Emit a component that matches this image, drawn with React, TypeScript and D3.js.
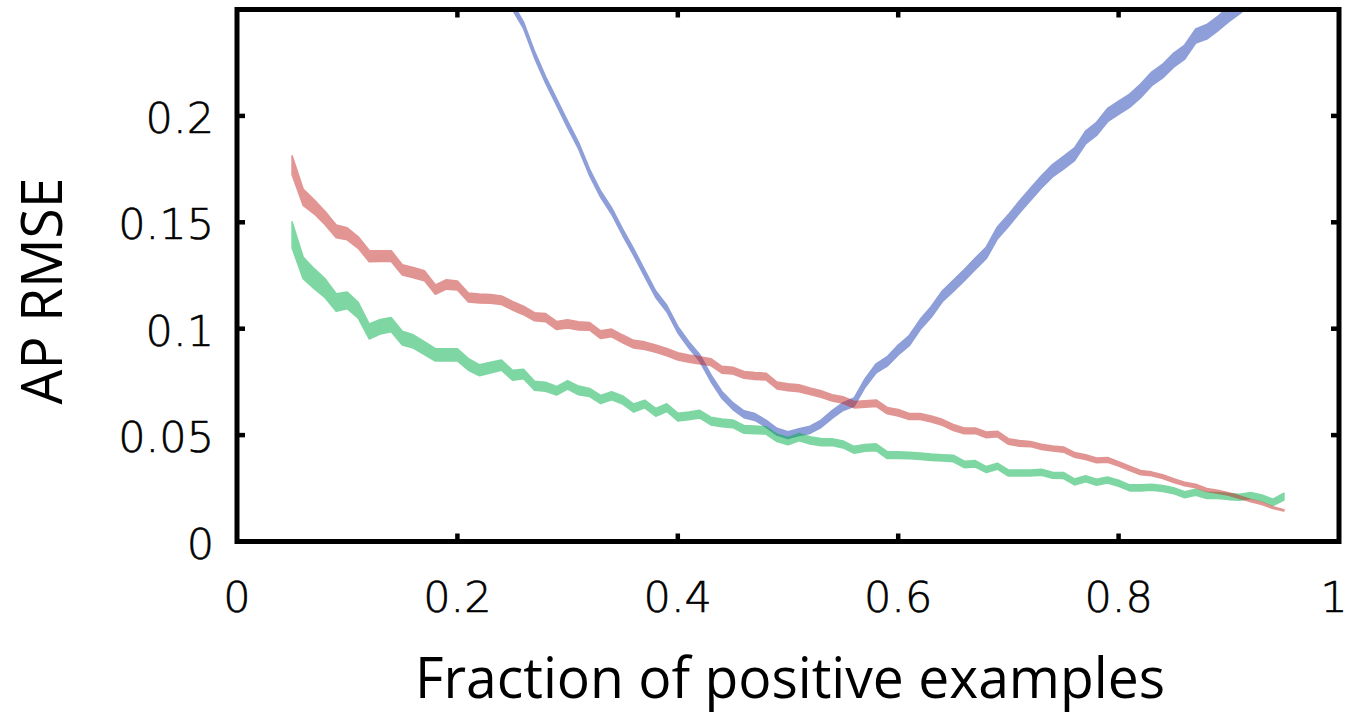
import React from 'react';
import * as d3 from 'd3';

// x grid of the red / green series (fraction of positive examples)
const frac = [
  0.05, 0.06, 0.07, 0.08, 0.09, 0.1, 0.11, 0.12, 0.13, 0.14,
  0.15, 0.16, 0.17, 0.18, 0.19, 0.2, 0.21, 0.22, 0.23, 0.24,
  0.25, 0.26, 0.27, 0.28, 0.29, 0.3, 0.31, 0.32, 0.33, 0.34,
  0.35, 0.36, 0.37, 0.38, 0.39, 0.4, 0.41, 0.42, 0.43, 0.44,
  0.45, 0.46, 0.47, 0.48, 0.49, 0.5, 0.51, 0.52, 0.53, 0.54,
  0.55, 0.56, 0.57, 0.58, 0.59, 0.6, 0.61, 0.62, 0.63, 0.64,
  0.65, 0.66, 0.67, 0.68, 0.69, 0.7, 0.71, 0.72, 0.73, 0.74,
  0.75, 0.76, 0.77, 0.78, 0.79, 0.8, 0.81, 0.82, 0.83, 0.84,
  0.85, 0.86, 0.87, 0.88, 0.89, 0.9, 0.91, 0.92, 0.93, 0.94, 0.95,
];

const redMean = [
  0.1768, 0.1618, 0.1573, 0.152, 0.1457, 0.1446, 0.1405, 0.1341, 0.1341, 0.1341,
  0.1276, 0.1264, 0.1249, 0.1184, 0.1208, 0.1203, 0.1147, 0.1142, 0.114, 0.1134,
  0.1108, 0.1086, 0.1056, 0.1052, 0.1015, 0.1023, 0.1013, 0.1011, 0.0972, 0.098,
  0.0952, 0.0927, 0.092, 0.0906, 0.089, 0.087, 0.0859, 0.0851, 0.0843, 0.0807,
  0.0803, 0.0783, 0.0778, 0.0775, 0.0733, 0.0725, 0.072, 0.0706, 0.0693, 0.0675,
  0.0665, 0.0643, 0.0646, 0.065, 0.0615, 0.0605, 0.0587, 0.0587, 0.0576, 0.056,
  0.0536, 0.052, 0.052, 0.0501, 0.0505, 0.047, 0.0461, 0.0458, 0.0445, 0.0437,
  0.0432, 0.0407, 0.0396, 0.0381, 0.0384, 0.0365, 0.0344, 0.0324, 0.0318, 0.0305,
  0.0286, 0.027, 0.0261, 0.0242, 0.0234, 0.0223, 0.0208, 0.0192, 0.0179, 0.0159, 0.0146,
];
const redSpread = [
  0.0045, 0.0038, 0.0033, 0.0031, 0.003, 0.0028, 0.0027, 0.0026, 0.0025, 0.0025,
  0.0024, 0.0024, 0.0023, 0.0022, 0.0022, 0.0021, 0.0021, 0.0021, 0.002, 0.002,
  0.002, 0.002, 0.0019, 0.0019, 0.0019, 0.0019, 0.0019, 0.0018, 0.0018, 0.0018,
  0.0018, 0.0018, 0.0018, 0.0017, 0.0017, 0.0017, 0.0017, 0.0017, 0.0016, 0.0016,
  0.0016, 0.0016, 0.0016, 0.0016, 0.0016, 0.0016, 0.0016, 0.0015, 0.0015, 0.0015,
  0.0015, 0.0015, 0.0015, 0.0015, 0.0015, 0.0015, 0.0014, 0.0014, 0.0014, 0.0014,
  0.0014, 0.0013, 0.0013, 0.0013, 0.0013, 0.0013, 0.0013, 0.0012, 0.0012, 0.0012,
  0.0012, 0.0011, 0.0011, 0.0011, 0.0011, 0.001, 0.001, 0.001, 0.0009, 0.0009,
  0.0009, 0.0008, 0.0008, 0.0007, 0.0007, 0.0006, 0.0006, 0.0005, 0.0005, 0.0004, 0.0003,
];

const greenMean = [
  0.1441, 0.1286, 0.1235, 0.119, 0.1123, 0.1133, 0.1087, 0.0987, 0.1009, 0.1019,
  0.0956, 0.094, 0.0909, 0.0877, 0.0877, 0.0877, 0.0832, 0.0805, 0.0817, 0.0829,
  0.0781, 0.0787, 0.0732, 0.0727, 0.0708, 0.0736, 0.071, 0.07, 0.0667, 0.0685,
  0.0665, 0.0627, 0.0646, 0.0607, 0.0629, 0.0585, 0.059, 0.0598, 0.0566, 0.0558,
  0.0553, 0.0527, 0.0524, 0.0522, 0.0487, 0.0472, 0.0491, 0.0475, 0.0467, 0.0467,
  0.0456, 0.0431, 0.044, 0.0443, 0.0406, 0.0406, 0.0404, 0.0401, 0.0396, 0.0393,
  0.039, 0.0362, 0.0365, 0.0338, 0.0354, 0.0322, 0.0322, 0.0322, 0.0325, 0.0311,
  0.031, 0.028, 0.0295, 0.0278, 0.0289, 0.0274, 0.0252, 0.0252, 0.0255, 0.0249,
  0.0239, 0.022, 0.0231, 0.0216, 0.0216, 0.0211, 0.0208, 0.0216, 0.0204, 0.0184, 0.0211,
];
const greenSpread = [
  0.0061, 0.0051, 0.0047, 0.0044, 0.0041, 0.0039, 0.0037, 0.0035, 0.0034, 0.0033,
  0.0032, 0.0031, 0.003, 0.0029, 0.0029, 0.0028, 0.0027, 0.0026, 0.0025, 0.0024,
  0.0023, 0.0022, 0.0021, 0.0021, 0.002, 0.002, 0.002, 0.0019, 0.0019, 0.0019,
  0.0019, 0.0019, 0.0018, 0.0018, 0.0018, 0.0018, 0.0018, 0.0018, 0.0018, 0.0018,
  0.0018, 0.0018, 0.0018, 0.0017, 0.0017, 0.0017, 0.0017, 0.0017, 0.0017, 0.0016,
  0.0016, 0.0016, 0.0016, 0.0016, 0.0016, 0.0016, 0.0015, 0.0015, 0.0015, 0.0015,
  0.0015, 0.0015, 0.0015, 0.0014, 0.0014, 0.0014, 0.0014, 0.0014, 0.0014, 0.0014,
  0.0014, 0.0014, 0.0014, 0.0014, 0.0014, 0.0014, 0.0014, 0.0014, 0.0014, 0.0014,
  0.0014, 0.0014, 0.0014, 0.0014, 0.0014, 0.0014, 0.0014, 0.0014, 0.0014, 0.0015, 0.0016,
];

// blue series (only the visible part, it leaves the top of the axes at both ends)
const blueFrac = [
  0.24, 0.25, 0.26, 0.27, 0.28, 0.29, 0.3, 0.31, 0.32, 0.33,
  0.34, 0.35, 0.36, 0.37, 0.38, 0.39, 0.4, 0.41, 0.42, 0.43,
  0.44, 0.45, 0.46, 0.47, 0.48, 0.49, 0.5, 0.51, 0.52, 0.53,
  0.54, 0.55, 0.56, 0.57, 0.58, 0.59, 0.6, 0.61, 0.62, 0.63,
  0.64, 0.65, 0.66, 0.67, 0.68, 0.69, 0.7, 0.71, 0.72, 0.73,
  0.74, 0.75, 0.76, 0.77, 0.78, 0.79, 0.8, 0.81, 0.82, 0.83,
  0.84, 0.85, 0.86, 0.87, 0.88, 0.89, 0.9, 0.91, 0.92,
];
const blueMean = [
  0.262, 0.2515, 0.2426, 0.2288, 0.217, 0.2065, 0.196, 0.186, 0.1734, 0.1632,
  0.1553, 0.1453, 0.136, 0.126, 0.1162, 0.1095, 0.0996, 0.0924, 0.0862, 0.0768,
  0.0689, 0.0636, 0.0598, 0.0585, 0.0554, 0.0516, 0.05, 0.0514, 0.0525, 0.0553,
  0.0597, 0.0634, 0.0655, 0.0745, 0.0814, 0.0846, 0.09, 0.0944, 0.102, 0.1079,
  0.1152, 0.1201, 0.1252, 0.1305, 0.1357, 0.145, 0.1508, 0.1572, 0.1631, 0.169,
  0.1742, 0.178, 0.182, 0.1898, 0.1939, 0.2004, 0.2038, 0.2071, 0.2118, 0.2174,
  0.2211, 0.2262, 0.23, 0.2375, 0.2395, 0.2434, 0.2477, 0.2515, 0.256,
];
const blueSpread = [
  0.0015, 0.0015, 0.0015, 0.0015, 0.0015, 0.0015, 0.0015, 0.0015, 0.0015, 0.0015,
  0.0015, 0.0015, 0.0015, 0.0015, 0.0015, 0.0015, 0.0015, 0.0015, 0.0015, 0.0016,
  0.0016, 0.0016, 0.0016, 0.0016, 0.0016, 0.0016, 0.0016, 0.0016, 0.0017, 0.0017,
  0.0018, 0.0018, 0.0019, 0.002, 0.0021, 0.0022, 0.0023, 0.0024, 0.0024, 0.0025,
  0.0025, 0.0026, 0.0026, 0.0027, 0.0027, 0.0028, 0.0028, 0.0028, 0.0029, 0.0029,
  0.0029, 0.003, 0.003, 0.003, 0.0031, 0.0031, 0.0031, 0.0031, 0.0032, 0.0032,
  0.0032, 0.0033, 0.0033, 0.0033, 0.0034, 0.0034, 0.0034, 0.0034, 0.0034,
];

const xTickValues = [0, 0.2, 0.4, 0.6, 0.8, 1];
const xTickLabels = ['0', '0.2', '0.4', '0.6', '0.8', '1'];
const yTickValues = [0, 0.05, 0.1, 0.15, 0.2];
const yTickLabels = ['0', '0.05', '0.1', '0.15', '0.2'];

const xTitle = 'Fraction of positive examples';
const yTitle = 'AP RMSE';

const W = 1350;
const H = 716;
const LEFT = 237;
const RIGHT = 1339;
const TOP = 9.5;
const BOTTOM = 541.5;
const TICK = 8;
const AXIS_W = 5;

const COLORS = { blue: '#1d3fb3', green: '#00b149', red: '#c52d29' };

export default function App() {
  const x = d3.scaleLinear().domain([0, 1]).range([LEFT, RIGHT]);
  const y = d3.scaleLinear().domain([0, 0.25]).range([BOTTOM, TOP]);

  const band = (xs: number[], m: number[], s: number[]) =>
    d3
      .area<number>()
      .x((_, i) => x(xs[i]))
      .y0((_, i) => y(m[i] - s[i]))
      .y1((_, i) => y(m[i] + s[i]))(m) as string;

  const series = [
    { key: 'blue', d: band(blueFrac, blueMean, blueSpread), color: COLORS.blue },
    { key: 'green', d: band(frac, greenMean, greenSpread), color: COLORS.green },
    { key: 'red', d: band(frac, redMean, redSpread), color: COLORS.red },
  ];

  const tickFont = "'DejaVu Sans', sans-serif";
  const titleFont = "'Open Sans', 'Noto Sans', sans-serif";

  return (
    <svg
      width={W}
      height={H}
      style={{ position: 'absolute', left: 0, top: 0, background: '#fff' }}
    >
      <rect x={0} y={0} width={W} height={H} fill="#fff" />
      <defs>
        <clipPath id="plotClip">
          <rect x={LEFT} y={TOP} width={RIGHT - LEFT} height={BOTTOM - TOP} />
        </clipPath>
      </defs>

      <g clipPath="url(#plotClip)">
        {series.map((s) => (
          <g key={s.key} opacity={0.5}>
            <path d={s.d} fill={s.color} stroke={s.color} strokeWidth={1.6} strokeLinejoin="round" />
          </g>
        ))}
      </g>

      {/* ticks */}
      <g stroke="#000" strokeWidth={4.5}>
        {xTickValues
          .filter((v) => v > 0 && v < 1)
          .map((v) => (
            <g key={'xt' + v}>
              <line x1={x(v)} x2={x(v)} y1={BOTTOM} y2={BOTTOM - TICK} />
              <line x1={x(v)} x2={x(v)} y1={TOP} y2={TOP + TICK} />
            </g>
          ))}
        {yTickValues
          .filter((v) => v > 0)
          .map((v) => (
            <g key={'yt' + v}>
              <line x1={LEFT} x2={LEFT + TICK} y1={y(v)} y2={y(v)} />
              <line x1={RIGHT} x2={RIGHT - TICK} y1={y(v)} y2={y(v)} />
            </g>
          ))}
      </g>

      {/* frame */}
      <rect
        x={LEFT}
        y={TOP}
        width={RIGHT - LEFT}
        height={BOTTOM - TOP}
        fill="none"
        stroke="#000"
        strokeWidth={AXIS_W}
      />

      {/* tick labels */}
      <g fontFamily={tickFont} fontSize={43} fontWeight={300} fill="#000" stroke="#000" strokeWidth={0.6}>
        {xTickValues.map((v, i) => (
          <text
            key={'xl' + v}
            x={x(v) - (i === xTickValues.length - 1 ? 5 : 0)}
            y={612}
            textAnchor="middle"
          >
            {xTickLabels[i]}
          </text>
        ))}
        {yTickValues.map((v, i) => (
          <text key={'yl' + v} x={214} y={y(v) + 17} textAnchor="end">
            {yTickLabels[i]}
          </text>
        ))}
      </g>

      {/* titles */}
      <text
        x={790}
        y={698}
        textAnchor="middle"
        fontFamily={titleFont}
        fontSize={56}
        textLength={750}
        lengthAdjust="spacingAndGlyphs"
        fill="#000"
      >
        {xTitle}
      </text>
      <text
        transform="translate(62,291) rotate(-90)"
        textAnchor="middle"
        fontFamily={titleFont}
        fontSize={56}
        textLength={227}
        lengthAdjust="spacingAndGlyphs"
        fill="#000"
      >
        {yTitle}
      </text>
    </svg>
  );
}
